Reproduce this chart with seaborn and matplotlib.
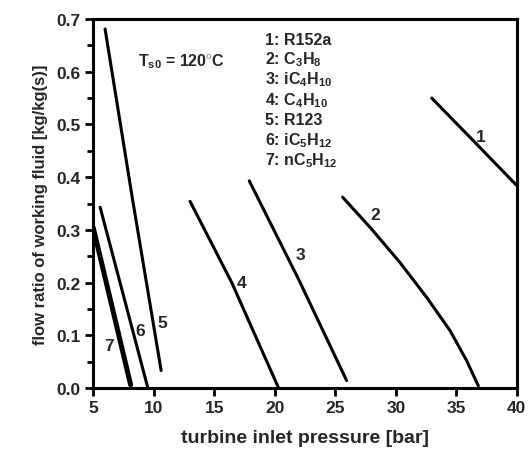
import matplotlib
matplotlib.use("Agg")
import matplotlib.pyplot as plt
import seaborn as sns
import pandas as pd
from matplotlib.ticker import MultipleLocator

sns.set_theme(style="ticks")
plt.rcParams['font.family'] = ['Liberation Sans', 'DejaVu Sans']
plt.rcParams['font.weight'] = 'bold'
plt.rcParams['mathtext.fontset'] = 'custom'
plt.rcParams['mathtext.rm'] = 'Liberation Sans:bold'
plt.rcParams['mathtext.it'] = 'Liberation Sans:bold'
plt.rcParams['mathtext.bf'] = 'Liberation Sans:bold'

# curve data (turbine inlet pressure [bar], flow ratio [kg/kg(s)])
c1_x = [32.97, 36.5, 40.0]
c1_y = [0.550, 0.467, 0.384]
c2_x = [25.61, 27.87, 30.35, 32.55, 34.48, 35.85, 36.82]
c2_y = [0.362, 0.305, 0.238, 0.172, 0.109, 0.052, 0.004]
c3_x = [17.9, 22.0, 25.94]
c3_y = [0.393, 0.205, 0.014]
c4_x = [13.01, 16.45, 20.3]
c4_y = [0.354, 0.200, 0.001]
c5_x = [5.99, 8.25, 10.62]
c5_y = [0.681, 0.359, 0.033]
c6_x = [5.58, 9.5]
c6_y = [0.343, 0.002]
c7_x = [5.0, 8.1]
c7_y = [0.305, 0.006]

curve_ids = ["1", "2", "3", "4", "5", "6", "7"]
label_x = [37.0, 28.3, 22.1, 17.3, 10.7, 8.9, 6.3]
label_y = [0.478, 0.330, 0.254, 0.200, 0.125, 0.109, 0.080]

legend_lines = ["1: R152a", "2: C$_3$H$_8$", "3: iC$_4$H$_{10}$", "4: C$_4$H$_{10}$",
                "5: R123", "6: iC$_5$H$_{12}$", "7: nC$_5$H$_{12}$"]

xs = [c1_x, c2_x, c3_x, c4_x, c5_x, c6_x, c7_x]
ys = [c1_y, c2_y, c3_y, c4_y, c5_y, c6_y, c7_y]
rows = []
for cid, xx, yy in zip(curve_ids, xs, ys):
    for i, (a, b) in enumerate(zip(xx, yy)):
        rows.append({"curve": cid, "p": a, "m": b, "order": i})
df = pd.DataFrame(rows)

fig = plt.figure(figsize=(5.29, 4.56), dpi=100)
ax = fig.add_axes([0.176, 0.147, 0.801, 0.809])

thin = df[df.curve != "7"]
sns.lineplot(data=thin, x="p", y="m", units="curve", estimator=None, sort=False,
             color="black", linewidth=2.2, ax=ax, legend=False)
sns.lineplot(data=df[df.curve == "7"], x="p", y="m", estimator=None, sort=False,
             color="black", linewidth=3.6, ax=ax, legend=False)

for cid, lx, ly in zip(curve_ids, label_x, label_y):
    ax.text(lx, ly, cid, fontsize=12.5, fontweight='bold', ha='center', va='center')

ax.text(8.7, 0.621, r"T$_{s0}$ = 120$^{\circ}$C", fontsize=11.5, fontweight='bold',
        ha='left', va='center')
for i, t in enumerate(legend_lines):
    ax.text(19.2, 0.662 - i * 0.038, t, fontsize=11.5, fontweight='bold',
            ha='left', va='center')

ax.set_xlim(5, 40)
ax.set_ylim(0, 0.7)
ax.xaxis.set_major_locator(MultipleLocator(5))
ax.yaxis.set_major_locator(MultipleLocator(0.1))
ax.yaxis.set_minor_locator(MultipleLocator(0.05))
ax.yaxis.set_major_formatter(matplotlib.ticker.FormatStrFormatter('%.1f'))
ax.tick_params(axis='both', which='major', direction='out', length=6, width=2,
               labelsize=12.5, pad=3, color='black')
ax.tick_params(axis='y', which='minor', direction='out', length=4, width=2, color='black')
for lab in ax.get_xticklabels() + ax.get_yticklabels():
    lab.set_fontweight('bold')
for s in ax.spines.values():
    s.set_linewidth(2.2)
    s.set_color('black')

ax.set_xlabel("turbine inlet pressure [bar]", fontsize=14, fontweight='bold', labelpad=10)
ax.set_ylabel("flow ratio of working fluid [kg/kg(s)]", fontsize=12, fontweight='bold', labelpad=6)

fig.savefig("out.png", dpi=100)
